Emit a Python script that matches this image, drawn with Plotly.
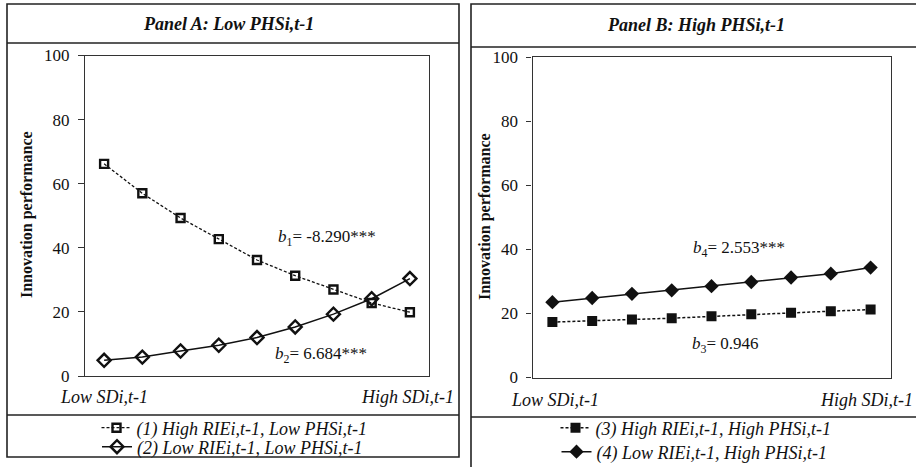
import plotly.graph_objects as go

W, H = 916, 467

# ---- data ----
steps = list(range(1, 10))
s1_high_rie_low_phs = [66.2, 57.0, 49.3, 42.7, 36.2, 31.3, 27.0, 22.8, 19.9]
s2_low_rie_low_phs = [4.9, 5.9, 7.8, 9.6, 12.0, 15.3, 19.3, 24.1, 30.4]
s3_high_rie_high_phs = [17.3, 17.6, 18.1, 18.5, 19.1, 19.7, 20.2, 20.7, 21.2]
s4_low_rie_high_phs = [23.5, 24.8, 26.1, 27.2, 28.5, 29.8, 31.2, 32.4, 34.3]

names = [
    "<i>(1) High RIEi,t-1, Low PHSi,t-1</i>",
    "<i>(2) Low RIEi,t-1, Low PHSi,t-1</i>",
    "<i>(3) High RIEi,t-1, High PHSi,t-1</i>",
    "<i>(4) Low RIEi,t-1, High PHSi,t-1</i>",
]
y_ticks = [0, 20, 40, 60, 80, 100]

FONT = "Liberation Serif, Times New Roman, serif"
INK = "#111111"


def px(x):
    return x / W


def py(y):
    return 1 - y / H


fig = go.Figure()

fig.add_trace(go.Scatter(
    x=steps, y=s1_high_rie_low_phs, mode="lines+markers", name=names[0],
    line=dict(color=INK, width=1.3, dash="3px,2px"),
    marker=dict(symbol="square-open", size=8, color=INK, line=dict(width=2.4, color=INK)),
    xaxis="x", yaxis="y", legend="legend"))
fig.add_trace(go.Scatter(
    x=steps, y=s2_low_rie_low_phs, mode="lines+markers", name=names[1],
    line=dict(color=INK, width=1.5),
    marker=dict(symbol="diamond-open", size=10, color=INK, line=dict(width=2.4, color=INK)),
    xaxis="x", yaxis="y", legend="legend2"))
fig.add_trace(go.Scatter(
    x=steps, y=s3_high_rie_high_phs, mode="lines+markers", name=names[2],
    line=dict(color=INK, width=1.5, dash="3px,2px"),
    marker=dict(symbol="square", size=10, color=INK),
    xaxis="x2", yaxis="y2", legend="legend3"))
fig.add_trace(go.Scatter(
    x=steps, y=s4_low_rie_high_phs, mode="lines+markers", name=names[3],
    line=dict(color=INK, width=1.5),
    marker=dict(symbol="diamond", size=11, color=INK),
    xaxis="x2", yaxis="y2", legend="legend4"))

axis_common = dict(showline=True, mirror=True, linecolor="#333", linewidth=1.3,
                   showgrid=False, zeroline=False, automargin=False)
xcommon = dict(axis_common, range=[0.5, 9.5], showticklabels=False, ticks="")
ycommon = dict(axis_common, range=[0, 100], tickvals=y_ticks, ticks="outside",
               ticklen=6, tickcolor="#333", tickwidth=1.2,
               tickfont=dict(family=FONT, size=17, color=INK), ticklabelstandoff=5)


def leg(xc, yc):
    return dict(x=px(xc), xanchor="center", y=py(yc), yanchor="middle",
                font=dict(family=FONT, size=18, color=INK), bgcolor="rgba(0,0,0,0)",
                borderwidth=0, itemwidth=30, tracegroupgap=0)


fig.update_layout(
    template="none",
    width=W, height=H,
    margin=dict(l=0, r=0, t=0, b=0, pad=0, autoexpand=False),
    paper_bgcolor="white", plot_bgcolor="white",
    font=dict(family=FONT, color=INK),
    xaxis=dict(xcommon, domain=[px(85), px(429)], anchor="y"),
    yaxis=dict(ycommon, domain=[py(376), py(55.5)], anchor="x"),
    xaxis2=dict(xcommon, domain=[px(532.5), px(890.5)], anchor="y2"),
    yaxis2=dict(ycommon, domain=[py(377.5), py(57)], anchor="x2", ticklen=5,
                ticklabelstandoff=5),
    legend=leg(234.5, 428),
    legend2=leg(232.5, 447),
    legend3=leg(696, 428),
    legend4=leg(694.5, 452),
    showlegend=True,
)

# panel frames
shapes = []
for (x0, x1, y0, y1, t_sep, l_sep) in [(7, 459, 4, 457, 43, 415), (471, 925, 4, 475, 47, 417)]:
    shapes.append(dict(type="rect", xref="paper", yref="paper",
                       x0=px(x0), x1=px(x1), y0=py(y1), y1=py(y0),
                       line=dict(color="#222", width=1.6)))
    for ys in (t_sep, l_sep):
        shapes.append(dict(type="line", xref="paper", yref="paper",
                           x0=px(x0), x1=px(x1), y0=py(ys), y1=py(ys),
                           line=dict(color="#222", width=1.4)))
fig.update_layout(shapes=shapes)

ann = []


def add_text(text, x, y, size=15, xanchor="center", angle=0):
    ann.append(dict(text=text, x=px(x), y=py(y), xref="paper", yref="paper",
                    xanchor=xanchor, yanchor="middle", showarrow=False,
                    textangle=angle, font=dict(family=FONT, size=size, color=INK)))


add_text("<b><i>Panel A: Low PHSi,t-1</i></b>", 228, 24, size=18)
add_text("<b><i>Panel B: High PHSi,t-1</i></b>", 696, 25, size=18)
add_text("<b>Innovation performance</b>", 27, 215, size=16, angle=-90)
add_text("<b>Innovation performance</b>", 485, 217, size=16, angle=-90)
add_text("<i>Low SDi,t-1</i>", 58, 397, size=18, xanchor="left")
add_text("<i>High SDi,t-1</i>", 456, 397, size=18, xanchor="right")
add_text("<i>Low SDi,t-1</i>", 509, 400, size=18, xanchor="left")
add_text("<i>High SDi,t-1</i>", 915, 400, size=18, xanchor="right")
add_text("<i>b</i><sub>1</sub>= -8.290***", 327, 238, size=17)
add_text("<i>b</i><sub>2</sub>= 6.684***", 321, 355, size=17)
add_text("<i>b</i><sub>4</sub>= 2.553***", 739, 249, size=17)
add_text("<i>b</i><sub>3</sub>= 0.946", 725, 345, size=17)
fig.update_layout(annotations=ann)

fig.write_html(
    "out.html",
    config={"displayModeBar": False},
    post_script="document.body.style.margin='0';document.body.style.overflow='hidden';",
)
